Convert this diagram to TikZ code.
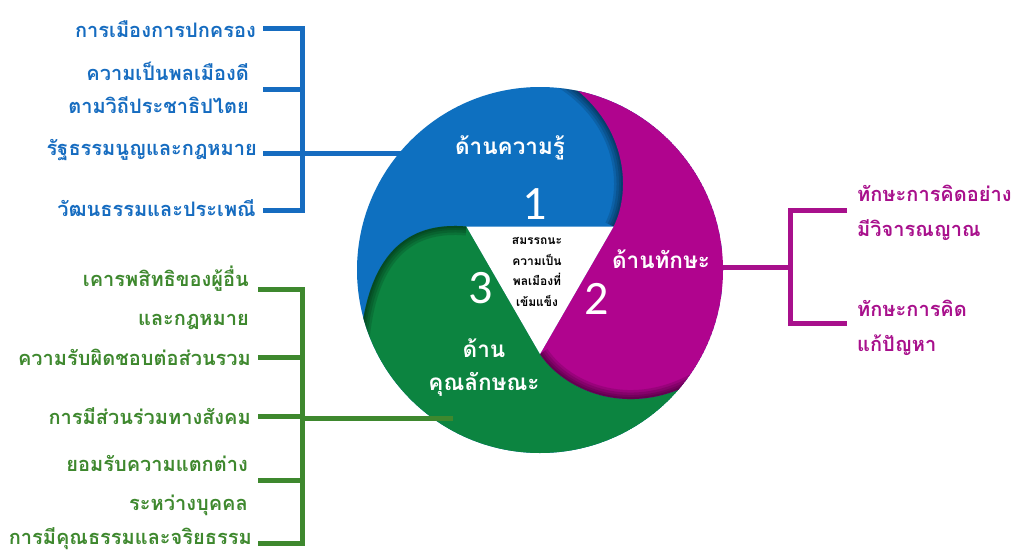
\documentclass[tikz,border=0pt]{standalone}
\usepackage{fontspec}
\newfontfamily\thai[Script=Thai]{Loma}
\newfontfamily\digits{Carlito}
\usetikzlibrary{positioning}

\definecolor{kBlue}{RGB}{14,112,192}
\definecolor{kMagenta}{RGB}{176,4,142}
\definecolor{kGreen}{RGB}{12,132,64}
\definecolor{tBlue}{RGB}{22,108,192}
\definecolor{tGreen}{RGB}{62,136,46}
\definecolor{tMagenta}{RGB}{168,16,140}

\tikzset{blueline/.style={draw=tBlue, line width=5pt}}
\tikzset{greenline/.style={draw=tGreen, line width=5pt}}
\tikzset{magline/.style={draw=tMagenta, line width=5pt}}
\tikzset{bluetext/.style={text=tBlue, inner sep=0pt, anchor=east, align=right, font=\thai\bfseries\fontsize{20}{33}\selectfont}}
\tikzset{greentext/.style={text=tGreen, inner sep=0pt, anchor=east, align=right, font=\thai\bfseries\fontsize{20}{39}\selectfont}}
\tikzset{magtext/.style={text=tMagenta, inner sep=0pt, anchor=west, align=left, font=\thai\bfseries\fontsize{20}{35}\selectfont}}
\tikzset{inlabel/.style={text=white, inner sep=0pt, align=center, font=\thai\bfseries\fontsize{22.5}{33}\selectfont}}
\tikzset{numlabel/.style={text=white, inner sep=0pt, font=\digits\fontsize{48}{48}\selectfont}}
\tikzset{coretext/.style={text=black, inner sep=0pt, align=center, font=\thai\bfseries\fontsize{12}{20.5}\selectfont}}

\newcommand{\magpath}{(v2) -- (v1) .. controls (632,190) and (628,120) .. (560,78) -- (760,40) -- (790,480) -- (695.4,381.8) .. controls (625,419.7) and (562.4,388.2) .. (v2) -- cycle}
\newcommand{\greenpath}{(v3) -- (v2) .. controls (562.4,388.2) and (625,419.7) .. (695.4,381.8) -- (790,480) -- (540,520) -- (300,470) -- (360,345) .. controls (368,245) and (415,222) .. (v3) -- cycle}
\newcommand{\arcshadow}[1]{\foreach \w in {18,13,8,4} {\draw[line width=\w pt, black, opacity=0.13] #1;}}

\begin{document}
\begin{tikzpicture}[x=1pt,y=-1pt]
\useasboundingbox (0,0) rectangle (1016,554);

\coordinate (ctr) at (540,270);
\coordinate (v1) at (613.6,226.5);
\coordinate (v2) at (540,354);
\coordinate (v3) at (466.4,226.5);

% brackets behind the wheel
\coordinate (kn1) at (263,28);
\coordinate (kn2) at (263,89);
\coordinate (kn3) at (263,153);
\coordinate (kn4) at (263,210);
\coordinate (kj1) at (302,28);
\coordinate (kj2) at (302,89);
\coordinate (kj3) at (302,153);
\coordinate (kj4) at (302,210);
\coordinate (kin) at (405,153);
\draw[blueline] (kn1) -- (kj1) -- (kj4) -- (kn4);
\draw[blueline] (kn2) -- (kj2);
\draw[blueline] (kn3) -- (kj3) -- (kin);

\coordinate (mn1) at (847,210);
\coordinate (mn2) at (847,323);
\coordinate (mj1) at (790,210);
\coordinate (mj2) at (790,323);
\coordinate (mj3) at (790,267);
\coordinate (min) at (715,267);
\draw[magline] (mn1) -- (mj1) -- (mj2) -- (mn2);
\draw[magline] (mj3) -- (min);

% the wheel
\begin{scope}
\clip (ctr) circle[radius=183pt];
\fill[kBlue] (ctr) circle[radius=183pt];
\arcshadow{(v1) .. controls (632,190) and (628,120) .. (560,78)}
\fill[kGreen] \greenpath;
\begin{scope}
\clip \greenpath;
\arcshadow{(v3) .. controls (415,222) and (368,245) .. (360,345)}
\end{scope}
\fill[kMagenta] \magpath;
\begin{scope}
\clip \magpath;
\arcshadow{(v2) .. controls (562.4,388.2) and (625,419.7) .. (695.4,381.8)}
\end{scope}
\fill[white] (v1) -- (v2) -- (v3) -- cycle;
\end{scope}

\coordinate (gn1) at (258,289);
\coordinate (gn2) at (258,357);
\coordinate (gn3) at (258,416);
\coordinate (gn4) at (258,480);
\coordinate (gn5) at (258,543);
\coordinate (gj1) at (302,289);
\coordinate (gj2) at (302,357);
\coordinate (gj3) at (302,416);
\coordinate (gj4) at (302,480);
\coordinate (gj5) at (302,543);
\coordinate (gin) at (453,418);
\draw[greenline] (gn1) -- (gj1) -- (gj5) -- (gn5);
\draw[greenline] (gn2) -- (gj2);
\draw[greenline] (gn4) -- (gj4);
\draw[greenline] (gn3) -- (gj3) |- (gin);

\node[inlabel] (l1) at (510,148) {ด้านความรู้};
\node[inlabel] (l2) at (661,259) {ด้านทักษะ};
\node[inlabel] (l3) at (484,368) {ด้าน\\คุณลักษณะ};
\node[numlabel] (n1) at (535,204) {1};
\node[numlabel] (n2) at (597,299) {2};
\node[numlabel] (n3) at (481,288) {3};
\node[coretext] (core) at (537,272) {สมรรถนะ\\ความเป็น\\พลเมืองที่\\เข้มแข็ง};

\node[bluetext] (k1) at (256,29) {การเมืองการปกครอง};
\node[bluetext] (k2) at (249,88) {ความเป็นพลเมืองดี\\ตามวิถีประชาธิปไตย};
\node[bluetext] (k3) at (257,150) {รัฐธรรมนูญและกฎหมาย};
\node[bluetext] (k4) at (256,208) {วัฒนธรรมและประเพณี};

\node[greentext] (g1) at (249,298) {เคารพสิทธิของผู้อื่น\\และกฎหมาย};
\node[greentext] (g2) at (251,357) {ความรับผิดชอบต่อส่วนรวม};
\node[greentext] (g3) at (251,416) {การมีส่วนร่วมทางสังคม};
\node[greentext] (g4) at (248,486) {ยอมรับความแตกต่าง\\ระหว่างบุคคล};
\node[greentext] (g5) at (252,539) {การมีคุณธรรมและจริยธรรม};

\node[magtext] (m1) at (857,213) {ทักษะการคิดอย่าง\\มีวิจารณญาณ};
\node[magtext] (m2) at (857,328) {ทักษะการคิด\\แก้ปัญหา};
\end{tikzpicture}
\end{document}
